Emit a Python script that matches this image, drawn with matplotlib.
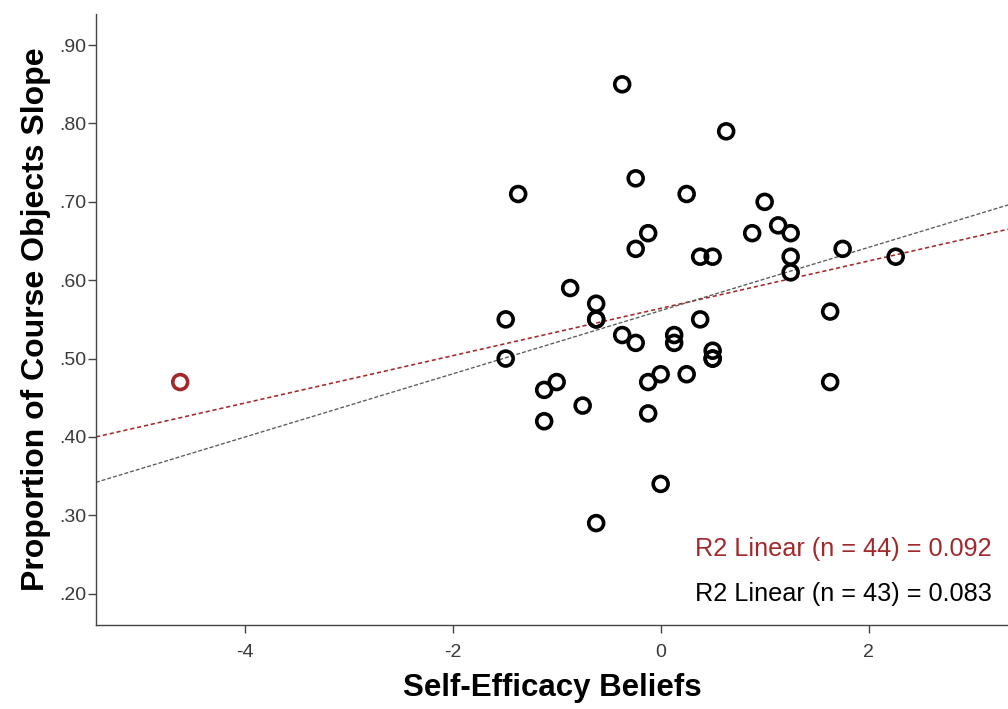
import numpy as np
import matplotlib
matplotlib.use("Agg")
import matplotlib.pyplot as plt
from matplotlib.ticker import FuncFormatter

plt.rcParams['font.family'] = ['Liberation Sans', 'DejaVu Sans']

# Self-efficacy scores and proportion of course objectives slope (n = 43)
efficacy = [-1.37, -1.49, -1.49, -1.12, -1.00, -1.12, -0.75, -0.87, -0.62, -0.62,
            -0.62, -0.37, -0.37, -0.24, -0.24, -0.24, -0.12, -0.12, -0.12, 0.00,
            0.00, 0.13, 0.13, 0.25, 0.25, 0.38, 0.38, 0.50, 0.50, 0.50,
            0.63, 0.88, 1.00, 1.13, 1.25, 1.25, 1.25, 1.75, 1.63, 1.63,
            2.26, 0.50, -0.62]
slope_prop = [0.71, 0.55, 0.50, 0.46, 0.47, 0.42, 0.44, 0.59, 0.57, 0.55,
              0.29, 0.85, 0.53, 0.73, 0.64, 0.52, 0.66, 0.47, 0.43, 0.48,
              0.34, 0.53, 0.52, 0.71, 0.48, 0.55, 0.63, 0.63, 0.51, 0.50,
              0.79, 0.66, 0.70, 0.67, 0.66, 0.63, 0.61, 0.64, 0.56, 0.47,
              0.63, 0.50, 0.55]

# The single outlying case added for the n = 44 fit
outlier_x = [-4.62]
outlier_y = [0.47]

# Linear fit lines (intercept, slope)
fit_n44 = [0.5641, 0.03022]
fit_n43 = [0.5612, 0.04036]

r2_labels = ["R2 Linear (n = 44) = 0.092", "R2 Linear (n = 43) = 0.083"]
xticks = [-4, -2, 0, 2]
yticks = [0.20, 0.30, 0.40, 0.50, 0.60, 0.70, 0.80, 0.90]

RED = "#a3282b"

fig = plt.figure(figsize=(10.08, 7.09), dpi=100)
ax = fig.add_axes([0.0952, 0.1185, 0.9048, 0.8615])
xlim = (-5.43, 3.34)
ax.set_xlim(*xlim)
ax.set_ylim(0.160, 0.9395)

xs = np.array(xlim)
ax.plot(xs, fit_n44[0] + fit_n44[1] * xs, color=RED, lw=1.15,
        ls=(0, (2.6, 1.8)), zorder=2)
ax.plot(xs, fit_n43[0] + fit_n43[1] * xs, color="#5a5a5a", lw=0.95,
        ls=(0, (3.0, 1.5)), zorder=2)

ax.scatter(efficacy, slope_prop, s=115, facecolors='none', edgecolors='black',
           linewidths=2.6, zorder=3)
ax.scatter(outlier_x, outlier_y, s=115, facecolors='none', edgecolors=RED,
           linewidths=2.6, zorder=3)

ax.text(0.982, 0.124, r2_labels[0], transform=ax.transAxes, ha='right', va='center',
        fontsize=18.2, color=RED)
ax.text(0.982, 0.051, r2_labels[1], transform=ax.transAxes, ha='right', va='center',
        fontsize=18.2, color='black')

for side in ('top', 'right'):
    ax.spines[side].set_visible(False)
for side in ('left', 'bottom'):
    ax.spines[side].set_color('#444444')
    ax.spines[side].set_linewidth(1.0)

ax.set_xticks(xticks)
ax.set_yticks(yticks)
ax.yaxis.set_major_formatter(FuncFormatter(lambda v, p: f"{v:.2f}".lstrip("0")))
ax.xaxis.set_major_formatter(FuncFormatter(lambda v, p: f"{v:g}"))
ax.tick_params(axis='both', direction='out', length=6, width=1.0, color='#444444',
               labelsize=14, labelcolor='#3a3a3a')
ax.tick_params(axis='x', pad=8)
ax.tick_params(axis='y', pad=1)

ax.set_xlabel("Self-Efficacy Beliefs", fontsize=22.5, fontweight='bold', labelpad=8)
ax.set_ylabel("Proportion of Course Objects Slope", fontsize=23, fontweight='bold',
              labelpad=6)

fig.savefig("out.png", dpi=100)
